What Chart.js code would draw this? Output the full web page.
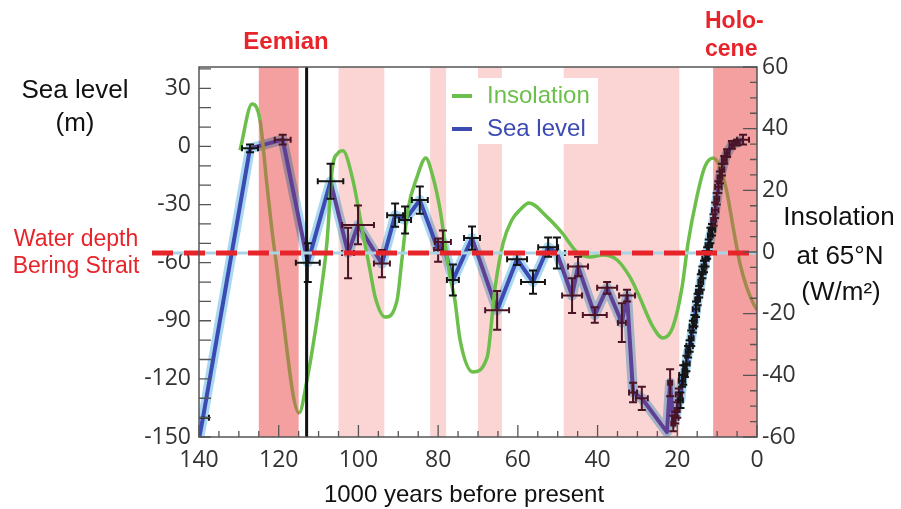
<!DOCTYPE html>
<html>
<head>
<meta charset="utf-8">
<script src="https://cdn.jsdelivr.net/npm/chart.js@4"></script>
<style>
  body { margin: 0; background: #fff; }
  #wrap { width: 901px; height: 509px; position: relative; }
</style>
</head>
<body>
<div id="wrap"><canvas id="sea-chart"></canvas></div>
<script>
// sea level reconstruction (age in kyr before present, level in m, +- errors)
const seaAge = [140, 139, 127.2, 119, 112.7, 107, 102.6, 100.1, 94.1, 90.8, 88.3, 84.6, 80.0, 78.8, 76.3, 71.5, 65.2, 60.2, 56.2, 52.4, 50.2, 46.4, 44.9, 40.7, 37.6, 33.9, 32.6, 31.1, 28.9, 22.6, 21.8, 21.0,
  20.5, 20.0, 19.6, 19.2, 18.8, 18.5, 18.1, 17.7, 17.3, 16.9, 16.5, 16.1, 15.7, 15.3, 14.9, 14.5, 14.1, 13.7, 13.3, 12.9, 12.5, 12.1, 11.7, 11.3, 10.9, 10.5, 10.1, 9.7, 9.3, 8.8, 8.2, 7.5, 6.3, 5.0, 3.5];
const seaLevel = [-151, -140, -1, 3.5, -60, -18, -55, -40.5, -60.5, -35.5, -38, -27.7, -53.5, -49.4, -69, -47.3, -84.6, -58.2, -70, -52, -55, -77, -62, -87, -73, -91, -77, -127, -130, -147.5, -122, -143,
  -140, -136, -128, -131, -121, -118, -116, -112, -106, -103, -99, -93, -90, -84, -79, -75, -70, -65, -62, -58, -55, -51, -46, -43, -38, -33, -27, -21, -16, -12, -7, -3.5, 0.8, 2, 3.5];
const seaAgeErr = [0, 1.5, 2, 2, 3, 3.2, 1.5, 4, 2, 2, 1.5, 2, 1, 2, 1.5, 2, 3, 2.5, 3, 2.5, 2, 2.5, 2.5, 3, 2.5, 1, 2, 1, 1.5, 0, 0.5, 0.5,
  0.8, 0.6, 0.8, 0.6, 0.8, 1.0, 0.6, 0.8, 0.6, 0.8, 0.6, 0.8, 0.6, 0.8, 0.6, 0.8, 0.6, 0.8, 0.6, 0.8, 0.6, 0.8, 0.6, 0.8, 0.6, 0.8, 0.6, 0.8, 0.6, 0.6, 0.6, 0.6, 0.6, 0.6, 1.5];
const seaLevelErr = [0, 0, 2, 2.5, 10, 9, 13, 10, 7, 6, 7, 7, 6, 6, 8, 6, 10, 3, 6, 5, 8, 9, 5, 4, 3, 10, 3, 5, 6, 0, 7, 4,
  3, 4, 3, 4, 3, 5, 3, 4, 3, 3, 4, 3, 3, 4, 3, 3, 4, 3, 3, 4, 3, 3, 4, 3, 3, 4, 3, 3, 3, 3, 2, 2, 2, 1.5, 2.5];

// summer insolation at 65N (W/m2, anomaly)
const insAge = [129.7, 126.7, 124.7, 122.9, 121.7, 120.4, 119.7, 114.9, 112.9, 110.9, 109.1, 107.9, 106.6, 105.1, 103.9, 101.4, 98.9, 97.1, 95.8, 93.3, 90.3, 89.1, 87.6, 85.3, 83.1, 81.3, 79.5, 78.3, 77.0, 75.8, 74.5, 71.3, 67.7, 65.7, 63.7, 61.5, 59.5, 57.2, 52.7, 48.9, 45.2, 41.9, 38.6, 35.1, 31.9, 29.9, 26.1, 23.6, 21.1, 18.8, 17.3, 15.1, 13.1, 11.0, 9.3, 7.5, 6.0, 4.3, 2.6, 1.0, 0];
const insValue = [33, 48, 42.8, 21.1, 7.1, -5.8, -13.3, -52.2, -41.5, -26.3, -10.1, 3, 26.6, 32.1, 32.8, 23.4, 6.2, -5.8, -14.6, -21.1, -15.6, -2.6, 13.6, 24.3, 30.5, 24.3, 13.6, 2.9, -8.1, -15.6, -28.5, -38.9, -34.1, -11.4, 2.9, 10.4, 13.6, 15.9, 11.4, 6.2, 0, -1.6, -1.0, -2.6, -8.1, -13.3, -24.3, -27.9, -24.3, -11.4, 2.9, 17.8, 27.6, 30.5, 27.6, 19.1, 8.1, -3.6, -11.4, -16.5, -18.8];

// warm periods (kyr), strong = interglacial
const warmStart = [125, 105, 82, 70, 48.5, 11];
const warmEnd = [115, 93.5, 78, 64, 19.5, 0];
const warmStrong = [true, false, false, false, false, true];

const ageTicks = [140, 120, 100, 80, 60, 40, 20, 0];
const seaTicks = [-150, -120, -90, -60, -30, 0, 30];
const insTicks = [-60, -40, -20, 0, 20, 40, 60];
const beringDepth = -55;
const markerAge = 113;

const RED = '#e8242b';
const GREEN = '#6cbf4a';
const BLUE = '#3b4bb3';
const PURPLE = '#5e4196';

// 0 = outside, 1 = light band, 2 = interglacial
function warmKind(age) {
  for (let i = 0; i < warmStart.length; i++) {
    if (age <= warmStart[i] && age >= warmEnd[i]) return warmStrong[i] ? 2 : 1;
  }
  return 0;
}

const seaPoints = seaAge.map((a, i) => ({x: a, y: seaLevel[i]}));
const insPoints = insAge.map((a, i) => ({x: a, y: insValue[i]}));
const midAge = c => (c.p0.parsed.x + c.p1.parsed.x) / 2;

const decor = {
  id: 'decor',
  beforeDatasetsDraw(chart) {
    const {ctx, chartArea: a, scales: {x}} = chart;
    ctx.save();
    for (let i = 0; i < warmStart.length; i++) {
      const x1 = x.getPixelForValue(warmStart[i]);
      const x2 = x.getPixelForValue(warmEnd[i]);
      ctx.fillStyle = warmStrong[i] ? '#f4a0a0' : '#fbd4d4';
      ctx.fillRect(x1, a.top, x2 - x1, a.bottom - a.top);
    }
    ctx.restore();
  },
  beforeDatasetDraw(chart, args) {
    chart.ctx.save();
    if (args.index === 2) chart.ctx.globalCompositeOperation = 'multiply';
  },
  afterDatasetDraw(chart) {
    chart.ctx.restore();
  },
  afterDatasetsDraw(chart) {
    const {ctx, chartArea: a, scales: {x, y}} = chart;
    ctx.save();
    ctx.beginPath();
    ctx.rect(a.left, a.top, a.right - a.left, a.bottom - a.top);
    ctx.clip();
    // error bars
    ctx.lineWidth = 2;
    for (let i = 0; i < seaAge.length; i++) {
      const px = x.getPixelForValue(seaAge[i]);
      const py = y.getPixelForValue(seaLevel[i]);
      ctx.strokeStyle = warmKind(seaAge[i]) ? '#4a1424' : '#151515';
      ctx.beginPath();
      if (seaAgeErr[i] > 0) {
        const x1 = x.getPixelForValue(seaAge[i] + seaAgeErr[i]);
        const x2 = x.getPixelForValue(seaAge[i] - seaAgeErr[i]);
        ctx.moveTo(x1, py); ctx.lineTo(x2, py);
        ctx.moveTo(x1, py - 3); ctx.lineTo(x1, py + 3);
        ctx.moveTo(x2, py - 3); ctx.lineTo(x2, py + 3);
      }
      if (seaLevelErr[i] > 0) {
        const y1 = y.getPixelForValue(seaLevel[i] + seaLevelErr[i]);
        const y2 = y.getPixelForValue(seaLevel[i] - seaLevelErr[i]);
        ctx.moveTo(px, y1); ctx.lineTo(px, y2);
        ctx.moveTo(px - 4, y1); ctx.lineTo(px + 4, y1);
        ctx.moveTo(px - 4, y2); ctx.lineTo(px + 4, y2);
      }
      ctx.stroke();
    }
    // marker line
    const mx = x.getPixelForValue(markerAge);
    ctx.strokeStyle = '#111';
    ctx.lineWidth = 3;
    ctx.beginPath();
    ctx.moveTo(mx, a.top); ctx.lineTo(mx, a.bottom);
    ctx.stroke();
    ctx.restore();
  },
  afterDraw(chart) {
    const {ctx, chartArea: a, scales: {x, y, y2}} = chart;
    ctx.save();
    // Bering strait line
    const by = y.getPixelForValue(beringDepth);
    ctx.lineWidth = 3;
    ctx.strokeStyle = '#a8d4e6';
    ctx.beginPath(); ctx.moveTo(a.left - 47, by); ctx.lineTo(a.right, by); ctx.stroke();
    ctx.lineWidth = 5;
    ctx.strokeStyle = RED;
    ctx.setLineDash([21, 11]);
    ctx.beginPath(); ctx.moveTo(a.left - 47, by); ctx.lineTo(a.right, by); ctx.stroke();
    ctx.setLineDash([]);

    // frame
    ctx.strokeStyle = '#555';
    ctx.lineWidth = 1.5;
    ctx.strokeRect(a.left, a.top, a.right - a.left, a.bottom - a.top);

    // inward ticks
    ctx.lineWidth = 1.3;
    ctx.beginPath();
    for (let v = -150; v <= 40; v += 10) {
      const p = y.getPixelForValue(v);
      ctx.moveTo(a.left, p); ctx.lineTo(a.left + 12, p);
    }
    for (let v = -60; v <= 60; v += 5) {
      const p = y2.getPixelForValue(v);
      const len = v % 20 === 0 ? 14 : 7;
      ctx.moveTo(a.right, p); ctx.lineTo(a.right - len, p);
    }
    for (let v = 0; v <= 140; v += 5) {
      const p = x.getPixelForValue(v);
      const len = v % 20 === 0 ? 12 : 6;
      ctx.moveTo(p, a.bottom); ctx.lineTo(p, a.bottom - len);
    }
    ctx.stroke();

    // legend
    ctx.fillStyle = '#fff';
    ctx.fillRect(446, 78, 152, 66);
    ctx.lineWidth = 4;
    ctx.strokeStyle = GREEN;
    ctx.beginPath(); ctx.moveTo(452, 96); ctx.lineTo(472, 96); ctx.stroke();
    ctx.strokeStyle = BLUE;
    ctx.beginPath(); ctx.moveTo(452, 129); ctx.lineTo(472, 129); ctx.stroke();
    ctx.font = '24px "Liberation Sans", Arial, sans-serif';
    ctx.textBaseline = 'middle';
    ctx.textAlign = 'left';
    ctx.fillStyle = GREEN;
    ctx.fillText('Insolation', 487, 96);
    ctx.fillStyle = BLUE;
    ctx.fillText('Sea level', 487, 129);

    // annotations
    ctx.textAlign = 'center';
    ctx.fillStyle = '#111';
    ctx.font = '26px "Liberation Sans", Arial, sans-serif';
    ctx.fillText('Sea level', 75, 91);
    ctx.fillText('(m)', 75, 124);
    ctx.fillText('Insolation', 839, 218);
    ctx.fillText('at 65°N', 840, 257);
    ctx.fillText('(W/m²)', 841, 293);
    ctx.font = '24px "Liberation Sans", Arial, sans-serif';
    ctx.fillText('1000 years before present', 464, 495);
    ctx.fillStyle = RED;
    ctx.font = '23px "Liberation Sans", Arial, sans-serif';
    ctx.fillText('Water depth', 76, 240);
    ctx.fillText('Bering Strait', 76, 267);
    ctx.font = 'bold 24px "Liberation Sans", Arial, sans-serif';
    ctx.fillText('Eemian', 286, 42);
    ctx.textAlign = 'left';
    ctx.font = 'bold 23px "Liberation Sans", Arial, sans-serif';
    ctx.fillText('Holo-', 705, 22);
    ctx.fillText('cene', 705, 50);
    ctx.restore();
  }
};

const tickFont = {family: '"Open Sans", sans-serif', size: 23};

const seaCanvas = document.getElementById('sea-chart');
let seaChart = new Chart(seaCanvas, {
  type: 'line',
  data: {
    datasets: [{
      label: 'Insolation',
      data: insPoints,
      yAxisID: 'y2',
      borderColor: GREEN,
      borderWidth: 3.5,
      cubicInterpolationMode: 'monotone',
      pointRadius: 0,
      segment: {
        borderColor: c => warmKind(midAge(c)) === 2 ? '#a08a4c' : GREEN
      }
    }, {
      label: 'Sea level',
      data: seaPoints,
      yAxisID: 'y',
      borderColor: BLUE,
      borderWidth: 4,
      borderJoinStyle: 'round',
      tension: 0,
      pointRadius: 0,
      segment: {
        borderColor: c => warmKind(midAge(c)) ? PURPLE : BLUE
      }
    }, {
      label: 'Sea level band',
      data: seaPoints,
      yAxisID: 'y',
      borderColor: 'rgba(160, 212, 238, 0.9)',
      borderWidth: 10,
      borderJoinStyle: 'round',
      tension: 0,
      pointRadius: 0
    }]
  },
  options: {
    responsive: true,
    maintainAspectRatio: false,
    animation: false,
    layout: { padding: { top: 67, left: 0, right: 0, bottom: 0 } },
    plugins: {
      legend: { display: false },
      tooltip: { enabled: false }
    },
    scales: {
      x: {
        type: 'linear',
        reverse: true,
        min: 0,
        max: 140,
        grid: { display: false, drawTicks: false },
        border: { display: false },
        afterBuildTicks: s => { s.ticks = ageTicks.map(v => ({value: v})); },
        afterFit: s => { s.height = 72; },
        ticks: { font: tickFont, color: '#333', padding: 10, autoSkip: false, maxRotation: 0 }
      },
      y: {
        position: 'left',
        min: -150,
        max: 41,
        grid: { display: false, drawTicks: false },
        border: { display: false },
        afterBuildTicks: s => { s.ticks = seaTicks.map(v => ({value: v})); },
        afterFit: s => { s.width = 199; },
        ticks: { font: tickFont, color: '#333', padding: 8 }
      },
      y2: {
        position: 'right',
        min: -60,
        max: 60,
        grid: { display: false, drawTicks: false },
        border: { display: false },
        afterBuildTicks: s => { s.ticks = insTicks.map(v => ({value: v})); },
        afterFit: s => { s.width = 144; },
        ticks: { font: tickFont, color: '#333', padding: 5 }
      }
    }
  },
  plugins: [decor]
});
</script>
</body>
</html>
